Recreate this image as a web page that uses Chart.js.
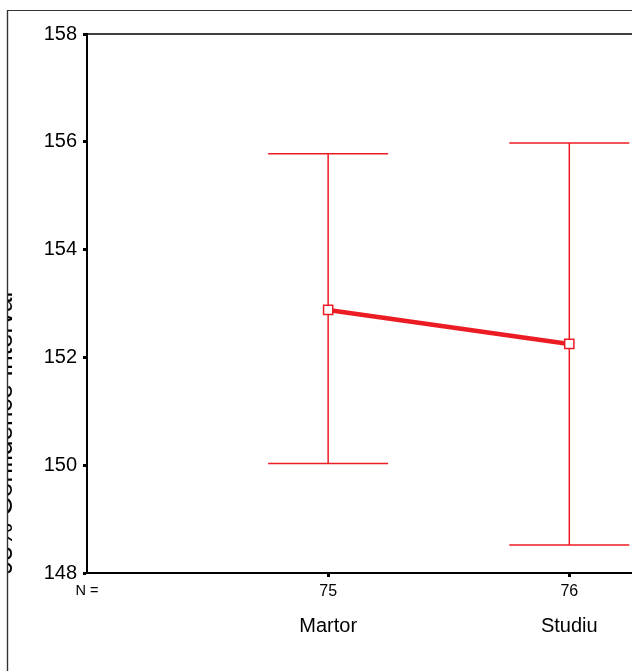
<!DOCTYPE html>
<html>
<head>
<meta charset="utf-8">
<script src="https://cdn.jsdelivr.net/npm/chart.js@4/dist/chart.umd.min.js"></script>
<style>
  html, body { margin: 0; padding: 0; background: #fff; overflow: hidden; }
  canvas { display: block; }
</style>
</head>
<body>
<canvas id="c" width="632" height="671"></canvas>
<script>
// ---- data ----
const categories = ["Martor", "Studiu"];
const counts = [75, 76];
const nLabel = "N =";
const means = [152.88, 152.25];
const upperCI = [155.78, 155.98];
const lowerCI = [150.03, 148.52];
const yTicks = [148, 150, 152, 154, 156, 158];
const yTitle = "95% Confidence Interval";

const RED = "rgb(236,28,36)";
const FONT = "'Liberation Sans', Arial, sans-serif";

const catX = categories.map((_, i) => i);

const datasets = [];
// whiskers
categories.forEach((c, i) => {
  datasets.push({
    type: "scatter", showLine: true, order: 3,
    data: [{ x: catX[i], y: lowerCI[i] }, { x: catX[i], y: upperCI[i] }],
    borderColor: RED, borderWidth: 1.5, pointRadius: 0, pointHoverRadius: 0
  });
});
// caps
datasets.push({
  type: "scatter", order: 2,
  data: categories.flatMap((c, i) => [{ x: catX[i], y: upperCI[i] }, { x: catX[i], y: lowerCI[i] }]),
  pointStyle: "line", pointRadius: 60, pointHoverRadius: 60,
  borderColor: RED, pointBorderWidth: 1.5, backgroundColor: RED
});
// means
datasets.push({
  type: "scatter", showLine: true, order: 0,
  data: categories.map((c, i) => ({ x: catX[i], y: means[i] })),
  borderColor: RED, borderWidth: 4.5,
  pointStyle: "rect", pointRadius: 6.5, pointHoverRadius: 6.5,
  pointBackgroundColor: "#fff", pointBorderColor: RED, pointBorderWidth: 1.5
});

const framePlugin = {
  id: "frame",
  beforeDraw(chart) {
    const ctx = chart.ctx;
    ctx.save();
    ctx.fillStyle = "#fff";
    ctx.fillRect(0, 0, chart.width, chart.height);
    ctx.strokeStyle = "#333";
    ctx.lineWidth = 1.2;
    ctx.beginPath();
    ctx.moveTo(7.5, chart.height + 5);
    ctx.lineTo(7.5, 10.5);
    ctx.lineTo(chart.width + 5, 10.5);
    ctx.stroke();
    ctx.restore();
  },
  afterDraw(chart) {
    const ctx = chart.ctx, a = chart.chartArea;
    ctx.save();
    ctx.strokeStyle = "#000";
    ctx.lineWidth = 1.5;
    ctx.beginPath();
    ctx.moveTo(a.left, a.top);
    ctx.lineTo(a.right + 5, a.top);
    ctx.stroke();
    // y axis title (rotated), clipped by the outer frame
    ctx.beginPath();
    ctx.rect(7, 0, chart.width, chart.height);
    ctx.clip();
    ctx.translate(11.5, 575);
    ctx.rotate(-Math.PI / 2);
    ctx.fillStyle = "#000";
    ctx.font = "26px " + FONT;
    ctx.textAlign = "left";
    ctx.textBaseline = "alphabetic";
    ctx.fillText(yTitle, 0, 0);
    ctx.restore();
    // redraw frame line over title
    ctx.save();
    ctx.strokeStyle = "#333";
    ctx.lineWidth = 1.2;
    ctx.beginPath();
    ctx.moveTo(7.5, chart.height + 5);
    ctx.lineTo(7.5, 10.5);
    ctx.stroke();
    ctx.restore();
  }
};

const xMin = -1, xMax = 1.26;

new Chart(document.getElementById("c"), {
  data: { datasets },
  options: {
    responsive: false,
    animation: false,
    events: [],
    layout: { autoPadding: false, padding: { top: 34, left: 0, right: 0, bottom: 0 } },
    plugins: { legend: { display: false }, tooltip: { enabled: false } },
    scales: {
      y: {
        type: "linear", min: yTicks[0], max: yTicks[yTicks.length - 1],
        afterBuildTicks: s => { s.ticks = yTicks.map(v => ({ value: v })); },
        afterFit: s => { s.width = 87; },
        border: { display: true, color: "#000", width: 2 },
        grid: { drawOnChartArea: false, drawTicks: true, tickLength: 4, tickWidth: 3, tickColor: "#000" },
        ticks: { color: "#000", padding: 6, font: { family: FONT, size: 20 } }
      },
      x: {
        type: "linear", position: "bottom", min: xMin, max: xMax, offset: false,
        afterBuildTicks: s => { s.ticks = [{ value: xMin }].concat(catX.map(v => ({ value: v }))); },
        afterFit: s => { s.height = 32; s.paddingLeft = 0; s.paddingRight = 0; },
        border: { display: true, color: "#000", width: 2 },
        grid: {
          drawOnChartArea: false, drawTicks: true, tickLength: 4, tickWidth: 3,
          tickColor: ctx => ctx.index === 0 ? "rgba(0,0,0,0)" : "#000"
        },
        ticks: {
          color: "#000", padding: 5, autoSkip: false, maxRotation: 0,
          font: ctx => ({ family: FONT, size: ctx.index === 0 ? 14.5 : 16 }),
          callback: (v, i) => i === 0 ? nLabel : String(counts[i - 1])
        }
      },
      x2: {
        type: "linear", position: "bottom", min: xMin, max: xMax, offset: false,
        afterBuildTicks: s => { s.ticks = catX.map(v => ({ value: v })); },
        afterFit: s => { s.height = 66; s.paddingLeft = 0; s.paddingRight = 0; },
        border: { display: false },
        grid: { display: false, drawTicks: false },
        ticks: {
          color: "#000", padding: 9, autoSkip: false, maxRotation: 0,
          font: { family: FONT, size: 20 },
          callback: (v, i) => categories[i]
        }
      }
    }
  },
  plugins: [framePlugin]
});
</script>
</body>
</html>
